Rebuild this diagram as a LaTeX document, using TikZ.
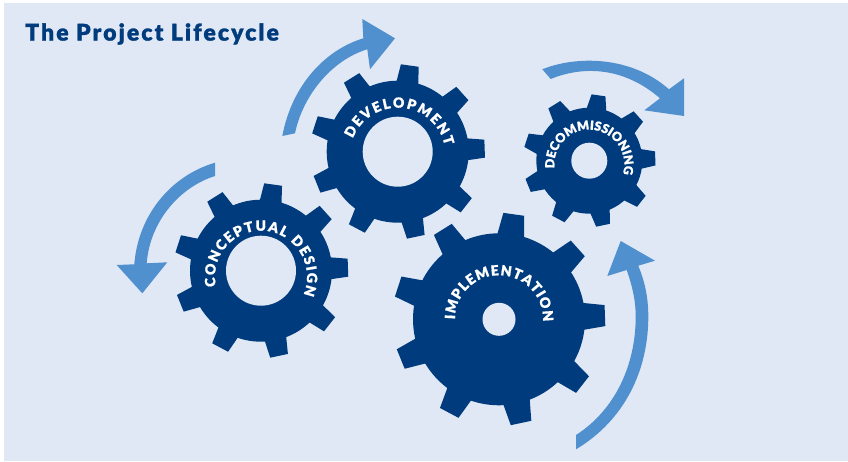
\documentclass[tikz,border=0pt]{standalone}
\usepackage{fontspec}
\setmainfont{Lato}
\newfontfamily\gearfont{Lato Black}[FakeBold=1]
\newfontfamily\titlefont{Lato Black}[FakeBold=1.2,LetterSpace=9]
\usetikzlibrary{calc,decorations.text}
\definecolor{gearblue}{HTML}{003C7D}
\definecolor{arrowblue}{HTML}{5090CF}
\definecolor{panelblue}{HTML}{E0E8F5}
\tikzset{
  gearbody/.style={fill=gearblue},
  gearhole/.style={fill=panelblue},
  cyclearrow/.style={fill=arrowblue},
  heading/.style={text=gearblue,anchor=west,inner sep=0pt,font=\titlefont\fontsize{23}{23}\selectfont}
}
% centre, body radius, tip radius, hole radius, half width at base, half width at tip
\newcommand{\gearwheel}[6]{
  \foreach \ang in {2,42,...,322}
    \fill[gearbody,shift={(#1)},rotate=\ang]
      (#2-2,#5) -- (#3,#6) -- (#3,-#6) -- (#2-2,-#5) -- cycle;
  \fill[gearbody] (#1) circle (#2);
  \fill[gearhole] (#1) circle (#4);
}
% font size, centre, baseline radius, start angle, end angle, text
\newcommand{\gearlabel}[6][14]{
  \path[decorate,decoration={text along path,text color=white,text align={fit to path},
      text={|\gearfont\fontsize{#1}{#1}\selectfont|#6}}]
    ($(#2)+(#4:#3)$) arc[start angle=#4,end angle=#5,radius=#3];
}

\begin{document}
\begin{tikzpicture}[x=1pt,y=1pt]
  \useasboundingbox (0,0) rectangle (848,461);
  \fill[panelblue] (4,0) rectangle (848,458);

  \node[heading] (title) at (25,427) {The Project Lifecycle};

  \coordinate (concept) at (261,190.3);
  \coordinate (develop) at (397.7,309.3);
  \coordinate (decommission) at (589.3,300.3);
  \coordinate (implement) at (499,141.7);
  % the words run round a centre a little under the hole
  \coordinate (conceptarc) at (261,184.3);
  \coordinate (developarc) at (397.7,305.3);
  \coordinate (decommissionarc) at (589.3,296.3);

  \gearwheel{concept}{71}{87}{35}{11}{9}
  \gearwheel{develop}{71}{87}{35}{11}{9}
  \gearwheel{decommission}{53}{66}{18}{10}{7}
  \gearwheel{implement}{86}{106}{16.5}{13.5}{10.5}

  \gearlabel{conceptarc}{46}{192}{-23}{CONCEPTUAL DESIGN}
  \gearlabel{developarc}{48}{159}{12}{DEVELOPMENT}
  \gearlabel[12.5]{decommissionarc}{35}{186}{-15}{DECOMMISSIONING}
  \gearlabel{implement}{44}{180}{-3}{IMPLEMENTATION}

  % development arrow
  \fill[cyclearrow] (282.3,325) .. controls (292,376) and (325,411) .. (363.3,422.7)
    -- (362.3,442) -- (395,422.7) -- (370,391.7) -- (367.3,411.7)
    .. controls (332,401) and (303,366) .. (295,327.7) -- cycle;
  % decommissioning arrow
  \fill[cyclearrow] (542.3,391.7) .. controls (575,405) and (630,406) .. (669,371.7)
    -- (684,382.7) -- (684,345) -- (644.3,350.7) -- (660,362.7)
    .. controls (625,393) and (585,396) .. (550.7,382) -- cycle;
  % implementation arrow
  \fill[cyclearrow] (576,11.7) .. controls (625,41) and (648.3,91) .. (648.3,144.3)
    .. controls (648.3,166) and (644,181) .. (638.3,195.3)
    -- (655,200.3) -- (620.7,220) -- (607.3,185) -- (626.7,191)
    .. controls (632,176) and (635.7,161) .. (635.7,144.3)
    .. controls (635.7,96) and (615,51) .. (576,26) -- cycle;
  % conceptual design arrow
  \fill[cyclearrow] (215,298.3) .. controls (170,285) and (138,245) .. (134.3,196.7)
    -- (116.7,196) -- (142.3,167.7) -- (167.3,198.7) -- (146.7,197.7)
    .. controls (150,240) and (180,274) .. (215,285) -- cycle;
\end{tikzpicture}
\end{document}
